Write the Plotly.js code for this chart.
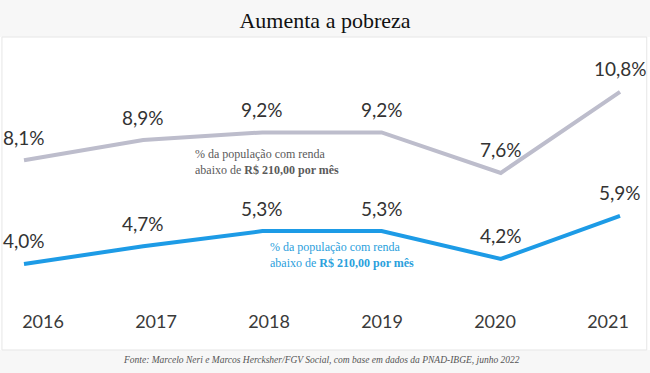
<!DOCTYPE html>
<html>
<head>
<meta charset="utf-8">
<script src="https://cdn.plot.ly/plotly-3.0.1.min.js"></script>
<style>html,body{margin:0;padding:0;background:#fff;}#chart{width:650px;height:373px;}</style>
</head>
<body>
<div id="chart"></div>
<script>
const years = ["2016", "2017", "2018", "2019", "2020", "2021"];
const below497 = [8.1, 8.9, 9.2, 9.2, 7.6, 10.8];
const below210 = [4.0, 4.7, 5.3, 5.3, 4.2, 5.9];
const grayLegend = "% da população com renda<br>abaixo de <b>R$ 210,00 por mês</b>";
const blueLegend = "% da população com renda<br>abaixo de <b>R$ 210,00 por mês</b>";
const titleText = "Aumenta a pobreza";
const sourceText = "Fonte: Marcelo Neri e Marcos Hercksher/FGV Social, com base em dados da PNAD-IBGE, junho 2022";

const fmt = v => v.toFixed(1).replace(".", ",") + "%";
const GRAY = "#bdbdcc", BLUE = "#1d9be6";

const traces = [
  {x: years, y: below497, mode: "lines", line: {color: GRAY, width: 4}, hoverinfo: "skip", xaxis: "x", yaxis: "y"},
  {x: years, y: below210, mode: "lines", line: {color: BLUE, width: 4}, hoverinfo: "skip", xaxis: "x", yaxis: "y"},
  {x: years, y: years.map(() => null), mode: "lines", hoverinfo: "skip", xaxis: "x2", yaxis: "y"}
];

const labelAnn = (vals) => vals.map((v, i) => ({
  x: i, y: v, xref: "x", yref: "y", text: fmt(v), showarrow: false,
  xanchor: "center", yanchor: "middle", yshift: 23,
  font: {family: "Lato, 'Open Sans', sans-serif", size: 19, color: "#333333"}
}));

const annotations = [
  ...labelAnn(below497),
  ...labelAnn(below210),
  {x: 193/650, y: 0.5415, xref: "paper", yref: "paper", xanchor: "left", yanchor: "middle", align: "left",
   showarrow: false, text: grayLegend,
   font: {family: "'Liberation Serif', 'DejaVu Serif', serif", size: 12, color: "#5a5a5a"}},
  {x: 268/650, y: 0.1868, xref: "paper", yref: "paper", xanchor: "left", yanchor: "middle", align: "left",
   showarrow: false, text: blueLegend,
   font: {family: "'Liberation Serif', 'DejaVu Serif', serif", size: 12, color: "#2aa0dc"}},
  {x: 0.495, y: -0.2075, xref: "paper", yref: "paper", xanchor: "center", yanchor: "middle",
   showarrow: false, text: "<i>" + sourceText + "</i>",
   font: {family: "'Liberation Serif', 'DejaVu Serif', serif", size: 9.5, color: "#555555"}}
];

const layout = {
  width: 650, height: 373,
  margin: {l: 0, r: 0, t: 40, b: 68, pad: 0},
  paper_bgcolor: "#ffffff", plot_bgcolor: "rgba(0,0,0,0)",
  showlegend: false,
  title: {text: titleText, x: 0.5, xanchor: "center", y: 1 - 20/373, yanchor: "middle",
          font: {family: "'Liberation Serif', 'DejaVu Serif', serif", size: 22, color: "#111111"}},
  xaxis: {type: "category", range: [-0.2013, 5.2517], showticklabels: false, showgrid: false,
          zeroline: false, showline: false, ticks: "", fixedrange: true},
  xaxis2: {type: "category", overlaying: "x", anchor: "y", side: "bottom",
           range: [-0.3805, 5.3717], showgrid: false, zeroline: false, showline: false, ticks: "",
           tickfont: {family: "Lato, 'Open Sans', sans-serif", size: 18, color: "#3a3a3a"},
           ticklabelstandoff: 4},
  yaxis: {range: [2.379, 12.854], showticklabels: false, showgrid: false, zeroline: false,
          showline: false, ticks: "", fixedrange: true},
  shapes: [
    {type: "rect", xref: "paper", yref: "paper", x0: 0, x1: 1, y0: 1.0113, y1: 1.1509,
     fillcolor: "#f7f7f7", line: {width: 0}, layer: "below"},
    {type: "rect", xref: "paper", yref: "paper", x0: 0, x1: 1, y0: -0.2566, y1: -0.1698,
     fillcolor: "#f7f7f7", line: {width: 0}, layer: "below"},
    {type: "rect", xref: "paper", yref: "paper", x0: 0.003, x1: 0.995, y0: -0.1698, y1: 1.0113,
     fillcolor: "rgba(0,0,0,0)", line: {width: 1, color: "#e6e6e6"}, layer: "below"}
  ],
  annotations: annotations
};

Plotly.newPlot("chart", traces, layout, {displayModeBar: false, staticPlot: true});
</script>
</body>
</html>
